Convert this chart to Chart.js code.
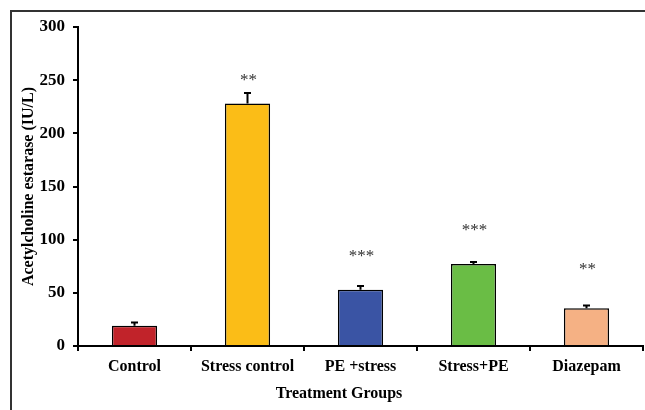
<!DOCTYPE html>
<html>
<head>
<meta charset="utf-8">
<script src="https://cdn.jsdelivr.net/npm/chart.js@4"></script>
<style>
  html, body { margin: 0; padding: 0; background: #fff; }
  #wrap { width: 645px; height: 410px; }
</style>
</head>
<body>
<div id="wrap"><canvas id="grafico"></canvas></div>
<script>
const groups = ['Control', 'Stress control', 'PE +stress', 'Stress+PE', 'Diazepam']
const means = [19, 228, 53, 77, 35.5]
const errors = [3, 10, 3.5, 2, 2.5]
const stars = ['', '**', '***', '***', '**']
const starLevel = [null, 253, 88, 112, 76]
const yTicks = [0, 50, 100, 150, 200, 250, 300]
const colors = ['#C1232A', '#FBBD17', '#3A54A4', '#6ABD45', '#F5B184']

const font = 'Liberation Serif, Times New Roman, serif'

// frame, error bars, significance marks and axis titles
const extras = {
    id: 'extras',
    beforeDraw(chart) {
        const ctx = chart.ctx
        ctx.save()
        ctx.strokeStyle = '#333'
        ctx.lineWidth = 2
        ctx.beginPath()
        ctx.moveTo(11, 410)
        ctx.lineTo(11, 11)
        ctx.lineTo(645, 11)
        ctx.stroke()
        ctx.restore()
    },
    afterDatasetsDraw(chart) {
        const ctx = chart.ctx
        const y = chart.scales.y
        const meta = chart.getDatasetMeta(0)
        ctx.save()
        meta.data.forEach((bar, i) => {
            const top = y.getPixelForValue(means[i])
            const end = y.getPixelForValue(means[i] + errors[i])
            ctx.strokeStyle = '#000'
            ctx.lineWidth = 2
            ctx.beginPath()
            ctx.moveTo(bar.x, top)
            ctx.lineTo(bar.x, end)
            ctx.moveTo(bar.x - 3.5, end)
            ctx.lineTo(bar.x + 3.5, end)
            ctx.stroke()
            if (stars[i]) {
                ctx.fillStyle = '#333'
                ctx.font = '17px ' + font
                ctx.textAlign = 'center'
                ctx.textBaseline = 'alphabetic'
                ctx.fillText(stars[i], bar.x + 1, y.getPixelForValue(starLevel[i]) + 8.5)
            }
        })
        ctx.fillStyle = '#000'
        ctx.font = 'bold 16px ' + font
        ctx.textAlign = 'center'
        ctx.textBaseline = 'middle'
        ctx.fillText('Treatment Groups', 339, 394)
        ctx.translate(29, (chart.chartArea.top + chart.chartArea.bottom) / 2)
        ctx.rotate(-Math.PI / 2)
        ctx.fillText('Acetylcholine estarase (IU/L)', 0, 0)
        ctx.restore()
    }
}

new Chart(document.getElementById('grafico'), {
    type: 'bar',
    data: {
        labels: groups,
        datasets: [{
            data: means,
            backgroundColor: colors,
            borderColor: '#000',
            borderWidth: 1.5,
            categoryPercentage: 1,
            barPercentage: 0.4
        }]
    },
    options: {
        responsive: true,
        maintainAspectRatio: false,
        animation: false,
        layout: { padding: { top: 27, right: 2, left: 0, bottom: 0 } },
        plugins: { legend: { display: false }, tooltip: { enabled: false } },
        scales: {
            x: {
                afterFit: s => { s.height = 64 },
                grid: { drawOnChartArea: false, drawTicks: true, tickLength: 5, color: '#000', lineWidth: 2 },
                border: { display: true, color: '#000', width: 2 },
                ticks: { color: '#000', padding: 6, font: { family: font, size: 16, weight: 'bold' } }
            },
            y: {
                min: 0,
                max: 300,
                afterFit: s => { s.width = 78 },
                afterBuildTicks: s => { s.ticks = yTicks.map(v => ({ value: v })) },
                grid: { drawOnChartArea: false, drawTicks: true, tickLength: 5, color: '#000', lineWidth: 2 },
                border: { display: true, color: '#000', width: 2 },
                ticks: { color: '#000', padding: 8, font: { family: font, size: 17, weight: 'bold' } }
            }
        }
    },
    plugins: [extras]
})
</script>
</body>
</html>
